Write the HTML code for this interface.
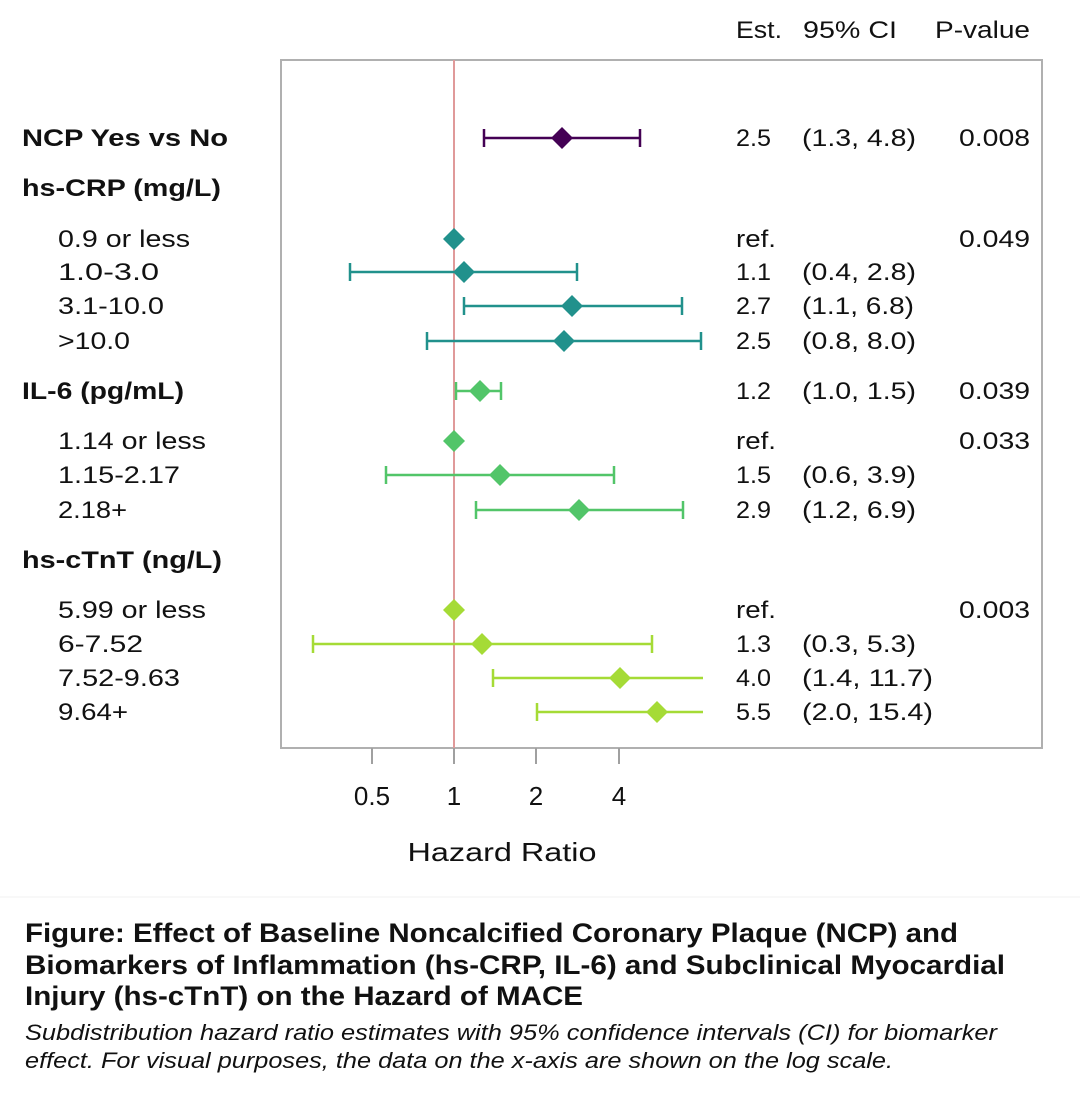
<!DOCTYPE html>
<html><head><meta charset="utf-8"><style>
html,body{margin:0;padding:0;background:#fff;}
svg{display:block;}
text{font-family:"Liberation Sans",Arial,sans-serif;fill:#111;}
</style></head><body>
<svg width="1080" height="1095" viewBox="0 0 1080 1095" xmlns="http://www.w3.org/2000/svg">
<rect width="1080" height="1095" fill="#fff"/>
<g font-size="24">
<text x="736" y="38" textLength="46" lengthAdjust="spacingAndGlyphs">Est.</text>
<text x="803" y="38" textLength="94" lengthAdjust="spacingAndGlyphs">95% CI</text>
<text x="935" y="38" textLength="95" lengthAdjust="spacingAndGlyphs">P-value</text>
</g>
<rect x="281" y="60" width="761" height="688" fill="none" stroke="#b0b0b0" stroke-width="2"/>
<line x1="454" y1="60" x2="454" y2="748" stroke="#e09a9a" stroke-width="2"/>
<g stroke="#a0a0a0" stroke-width="2">
<line x1="372" y1="748" x2="372" y2="764"/><line x1="454" y1="748" x2="454" y2="764"/>
<line x1="536" y1="748" x2="536" y2="764"/><line x1="619" y1="748" x2="619" y2="764"/>
</g>
<g font-size="26" text-anchor="middle">
<text x="372" y="805">0.5</text><text x="454" y="805">1</text><text x="536" y="805">2</text><text x="619" y="805">4</text>
<text x="502" y="861" textLength="189" lengthAdjust="spacingAndGlyphs">Hazard Ratio</text>
</g>
<g font-size="24">
<text x="22" y="146" font-weight="bold" textLength="206" lengthAdjust="spacingAndGlyphs">NCP Yes vs No</text>
<text x="22" y="196" font-weight="bold" textLength="199" lengthAdjust="spacingAndGlyphs">hs-CRP (mg/L)</text>
<text x="58" y="247" textLength="132" lengthAdjust="spacingAndGlyphs">0.9 or less</text>
<text x="58" y="280" textLength="101" lengthAdjust="spacingAndGlyphs">1.0-3.0</text>
<text x="58" y="314" textLength="106" lengthAdjust="spacingAndGlyphs">3.1-10.0</text>
<text x="58" y="349" textLength="72" lengthAdjust="spacingAndGlyphs">&gt;10.0</text>
<text x="22" y="399" font-weight="bold" textLength="162" lengthAdjust="spacingAndGlyphs">IL-6 (pg/mL)</text>
<text x="58" y="449" textLength="148" lengthAdjust="spacingAndGlyphs">1.14 or less</text>
<text x="58" y="483" textLength="122" lengthAdjust="spacingAndGlyphs">1.15-2.17</text>
<text x="58" y="518" textLength="69" lengthAdjust="spacingAndGlyphs">2.18+</text>
<text x="22" y="568" font-weight="bold" textLength="200" lengthAdjust="spacingAndGlyphs">hs-cTnT (ng/L)</text>
<text x="58" y="618" textLength="148" lengthAdjust="spacingAndGlyphs">5.99 or less</text>
<text x="58" y="652" textLength="85" lengthAdjust="spacingAndGlyphs">6-7.52</text>
<text x="58" y="686" textLength="122" lengthAdjust="spacingAndGlyphs">7.52-9.63</text>
<text x="58" y="720" textLength="70" lengthAdjust="spacingAndGlyphs">9.64+</text>
</g>
<g font-size="24">
<text x="736" y="146" textLength="35" lengthAdjust="spacingAndGlyphs">2.5</text><text x="802" y="146" textLength="114" lengthAdjust="spacingAndGlyphs">(1.3, 4.8)</text><text x="959" y="146" textLength="71" lengthAdjust="spacingAndGlyphs">0.008</text>
<text x="736" y="247" textLength="40" lengthAdjust="spacingAndGlyphs">ref.</text><text x="959" y="247" textLength="71" lengthAdjust="spacingAndGlyphs">0.049</text>
<text x="736" y="280" textLength="35" lengthAdjust="spacingAndGlyphs">1.1</text><text x="802" y="280" textLength="114" lengthAdjust="spacingAndGlyphs">(0.4, 2.8)</text>
<text x="736" y="314" textLength="35" lengthAdjust="spacingAndGlyphs">2.7</text><text x="802" y="314" textLength="112" lengthAdjust="spacingAndGlyphs">(1.1, 6.8)</text>
<text x="736" y="349" textLength="35" lengthAdjust="spacingAndGlyphs">2.5</text><text x="802" y="349" textLength="114" lengthAdjust="spacingAndGlyphs">(0.8, 8.0)</text>
<text x="736" y="399" textLength="35" lengthAdjust="spacingAndGlyphs">1.2</text><text x="802" y="399" textLength="114" lengthAdjust="spacingAndGlyphs">(1.0, 1.5)</text><text x="959" y="399" textLength="71" lengthAdjust="spacingAndGlyphs">0.039</text>
<text x="736" y="449" textLength="40" lengthAdjust="spacingAndGlyphs">ref.</text><text x="959" y="449" textLength="71" lengthAdjust="spacingAndGlyphs">0.033</text>
<text x="736" y="483" textLength="35" lengthAdjust="spacingAndGlyphs">1.5</text><text x="802" y="483" textLength="114" lengthAdjust="spacingAndGlyphs">(0.6, 3.9)</text>
<text x="736" y="518" textLength="35" lengthAdjust="spacingAndGlyphs">2.9</text><text x="802" y="518" textLength="114" lengthAdjust="spacingAndGlyphs">(1.2, 6.9)</text>
<text x="736" y="618" textLength="40" lengthAdjust="spacingAndGlyphs">ref.</text><text x="959" y="618" textLength="71" lengthAdjust="spacingAndGlyphs">0.003</text>
<text x="736" y="652" textLength="35" lengthAdjust="spacingAndGlyphs">1.3</text><text x="802" y="652" textLength="114" lengthAdjust="spacingAndGlyphs">(0.3, 5.3)</text>
<text x="736" y="686" textLength="35" lengthAdjust="spacingAndGlyphs">4.0</text><text x="802" y="686" textLength="131" lengthAdjust="spacingAndGlyphs">(1.4, 11.7)</text>
<text x="736" y="720" textLength="35" lengthAdjust="spacingAndGlyphs">5.5</text><text x="802" y="720" textLength="131" lengthAdjust="spacingAndGlyphs">(2.0, 15.4)</text>
</g>
<g stroke-width="2.5">
<g stroke="#440154" fill="#440154">
<line x1="484" y1="138" x2="640" y2="138"/><line x1="484" y1="129" x2="484" y2="147"/><line x1="640" y1="129" x2="640" y2="147"/>
<polygon points="562,127 573,138 562,149 551,138" stroke="none"/>
</g>
<g stroke="#21918c" fill="#21918c">
<polygon points="454,228 465,239 454,250 443,239" stroke="none"/>
<line x1="350" y1="272" x2="577" y2="272"/><line x1="350" y1="263" x2="350" y2="281"/><line x1="577" y1="263" x2="577" y2="281"/>
<polygon points="464,261 475,272 464,283 453,272" stroke="none"/>
<line x1="464" y1="306" x2="682" y2="306"/><line x1="464" y1="297" x2="464" y2="315"/><line x1="682" y1="297" x2="682" y2="315"/>
<polygon points="572,295 583,306 572,317 561,306" stroke="none"/>
<line x1="427" y1="341" x2="701" y2="341"/><line x1="427" y1="332" x2="427" y2="350"/><line x1="701" y1="332" x2="701" y2="350"/>
<polygon points="564,330 575,341 564,352 553,341" stroke="none"/>
</g>
<g stroke="#52c569" fill="#52c569">
<line x1="456" y1="391" x2="501" y2="391"/><line x1="456" y1="382" x2="456" y2="400"/><line x1="501" y1="382" x2="501" y2="400"/>
<polygon points="480,380 491,391 480,402 469,391" stroke="none"/>
<polygon points="454,430 465,441 454,452 443,441" stroke="none"/>
<line x1="386" y1="475" x2="614" y2="475"/><line x1="386" y1="466" x2="386" y2="484"/><line x1="614" y1="466" x2="614" y2="484"/>
<polygon points="500,464 511,475 500,486 489,475" stroke="none"/>
<line x1="476" y1="510" x2="683" y2="510"/><line x1="476" y1="501" x2="476" y2="519"/><line x1="683" y1="501" x2="683" y2="519"/>
<polygon points="579,499 590,510 579,521 568,510" stroke="none"/>
</g>
<g stroke="#a5db36" fill="#a5db36">
<polygon points="454,599 465,610 454,621 443,610" stroke="none"/>
<line x1="313" y1="644" x2="652" y2="644"/><line x1="313" y1="635" x2="313" y2="653"/><line x1="652" y1="635" x2="652" y2="653"/>
<polygon points="482,633 493,644 482,655 471,644" stroke="none"/>
<line x1="493" y1="678" x2="703" y2="678"/><line x1="493" y1="669" x2="493" y2="687"/>
<polygon points="620,667 631,678 620,689 609,678" stroke="none"/>
<line x1="537" y1="712" x2="703" y2="712"/><line x1="537" y1="703" x2="537" y2="721"/>
<polygon points="657,701 668,712 657,723 646,712" stroke="none"/>
</g>
</g>
<line x1="0" y1="897" x2="1080" y2="897" stroke="#f0f0f0" stroke-width="1"/>
<g font-size="27" font-weight="bold">
<text x="25" y="942" textLength="933" lengthAdjust="spacingAndGlyphs">Figure: Effect of Baseline Noncalcified Coronary Plaque (NCP) and</text>
<text x="25" y="974" textLength="980" lengthAdjust="spacingAndGlyphs">Biomarkers of Inflammation (hs-CRP, IL-6) and Subclinical Myocardial</text>
<text x="25" y="1005" textLength="558" lengthAdjust="spacingAndGlyphs">Injury (hs-cTnT) on the Hazard of MACE</text>
</g>
<g font-size="22" font-style="italic">
<text x="25" y="1040" textLength="972" lengthAdjust="spacingAndGlyphs">Subdistribution hazard ratio estimates with 95% confidence intervals (CI) for biomarker</text>
<text x="25" y="1068" textLength="868" lengthAdjust="spacingAndGlyphs">effect. For visual purposes, the data on the x-axis are shown on the log scale.</text>
</g>
</svg>
</body></html>
